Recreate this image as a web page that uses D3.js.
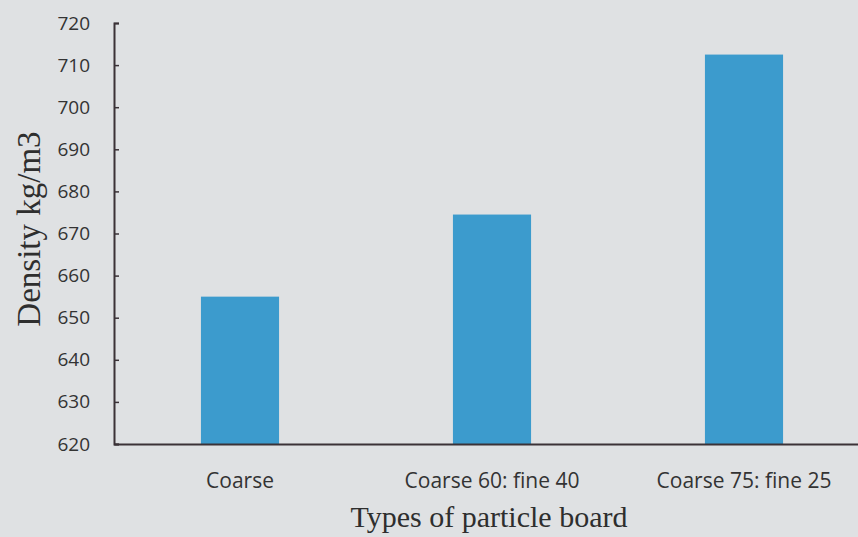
<!DOCTYPE html>
<html>
<head>
<meta charset="utf-8">
<script src="https://cdn.jsdelivr.net/npm/d3@7"></script>
<style>
  html, body { margin: 0; padding: 0; background: #dfe1e3; }
  svg { display: block; }
</style>
</head>
<body>
<div id="chart"></div>
<script>
// data
const categories = ['Coarse', 'Coarse 60: fine 40', 'Coarse 75: fine 25'];
const densities = [655, 674.5, 712.5];
const yTicks = [620, 630, 640, 650, 660, 670, 680, 690, 700, 710, 720];

const width = 858, height = 537;
const margin = { top: 23, right: -12, bottom: 93, left: 114 };

const svg = d3.select('#chart')
  .append('svg')
  .attr('width', width)
  .attr('height', height);

svg.append('rect')
  .attr('width', width)
  .attr('height', height)
  .attr('fill', '#dfe1e3');

// scales
const x = d3.scaleBand()
  .domain(categories)
  .range([margin.left, width - margin.right])
  .paddingInner(0.69)
  .paddingOuter(0.345);

const y = d3.scaleLinear()
  .domain([620, 720])
  .range([height - margin.bottom, margin.top]);

// bars
svg.append('g')
  .selectAll('rect')
  .data(categories)
  .join('rect')
  .attr('x', d => x(d))
  .attr('width', x.bandwidth())
  .attr('y', (d, i) => y(densities[i]))
  .attr('height', (d, i) => y(620) - y(densities[i]))
  .attr('fill', '#3c9bcd');

// y axis, ticks point inward
const yAxis = svg.append('g')
  .attr('transform', `translate(${margin.left},0)`)
  .call(d3.axisRight(y).tickValues(yTicks).tickSize(5).tickSizeOuter(5));
yAxis.select('.domain').attr('stroke', '#3b3237').attr('stroke-width', 2);
yAxis.selectAll('.tick line').attr('stroke', '#3b3237').attr('stroke-width', 1.5);
yAxis.selectAll('.tick text')
  .attr('x', -24)
  .attr('text-anchor', 'end')
  .style('font-family', '"Open Sans", sans-serif')
  .style('font-size', '19px')
  .style('fill', '#333');

// x axis line
const xAxis = svg.append('g')
  .attr('transform', `translate(0,${y(620)})`)
  .call(d3.axisBottom(x).tickSize(0).tickSizeOuter(0));
xAxis.select('.domain').attr('stroke', '#3b3237').attr('stroke-width', 2.2);
xAxis.selectAll('.tick text')
  .attr('dy', 0)
  .attr('y', 44)
  .style('font-family', '"Open Sans", sans-serif')
  .style('font-size', '21px')
  .style('fill', '#333');

// axis titles
svg.append('text')
  .attr('transform', `translate(40, 229) rotate(-90)`)
  .attr('text-anchor', 'middle')
  .style('font-family', '"Liberation Serif", "DejaVu Serif", serif')
  .style('font-size', '33px')
  .style('fill', '#2e2e2e')
  .text('Density kg/m3');

svg.append('text')
  .attr('x', 489)
  .attr('y', 527)
  .attr('text-anchor', 'middle')
  .style('font-family', '"Liberation Serif", "DejaVu Serif", serif')
  .style('font-size', '30px')
  .style('fill', '#2e2e2e')
  .text('Types of particle board');
</script>
</body>
</html>
